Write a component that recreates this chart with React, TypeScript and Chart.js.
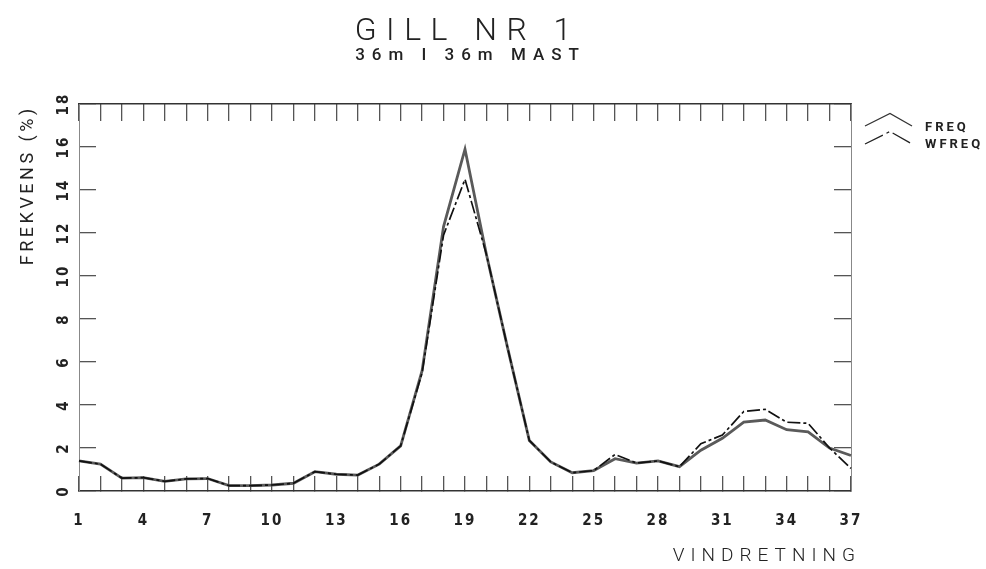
import React, { useEffect, useRef } from 'react';
import { Chart, registerables } from 'chart.js';

Chart.register(...registerables);

// ---- data ----
const directions = ['1','2','3','4','5','6','7','8','9','10','11','12','13','14','15','16','17','18','19','20','21','22','23','24','25','26','27','28','29','30','31','32','33','34','35','36','37'];
const freq = [1.4, 1.25, 0.6, 0.62, 0.45, 0.56, 0.58, 0.25, 0.25, 0.28, 0.36, 0.9, 0.78, 0.74, 1.25, 2.1, 5.6, 12.3, 15.9, 11.0, 6.6, 2.35, 1.35, 0.85, 0.95, 1.5, 1.3, 1.4, 1.13, 1.9, 2.45, 3.2, 3.3, 2.85, 2.75, 2.0, 1.65];
const wfreq = [1.4, 1.25, 0.6, 0.62, 0.45, 0.56, 0.58, 0.25, 0.25, 0.28, 0.36, 0.9, 0.78, 0.74, 1.25, 2.1, 5.5, 11.9, 14.5, 11.0, 6.6, 2.35, 1.35, 0.85, 0.95, 1.7, 1.3, 1.4, 1.13, 2.2, 2.6, 3.7, 3.8, 3.2, 3.15, 2.0, 1.05];
const seriesNames = ['FREQ', 'WFREQ'];
const yMin = 0;
const yMax = 18;
const yStep = 2;
const labelEvery = 3;
const titleText = 'GILL NR 1';
const subtitleText = '36m I 36m MAST';
const yTitleText = 'FREKVENS (%)';
const xTitleText = 'VINDRETNING';

// ---- styles ----
const INK = '#222';
const FREQ_COLOR = '#5a5a5a';
const WFREQ_COLOR = '#111';
const WFREQ_DASH = [13, 3, 3, 3];
const TICK_FONT = { family: '"Liberation Sans Narrow", "DejaVu Sans Condensed", Roboto, sans-serif', size: 15, weight: 'bold' as const };

function drawSpaced(ctx: CanvasRenderingContext2D, text: string, x: number, y: number, font: string, spacing: number, align: 'left' | 'center' | 'right') {
  ctx.font = font;
  (ctx as any).letterSpacing = spacing + 'px';
  const w = ctx.measureText(text).width - spacing;
  let sx = x;
  if (align === 'center') sx = x - w / 2;
  else if (align === 'right') sx = x - w;
  ctx.textAlign = 'left';
  ctx.fillText(text, sx, y);
}

const plotterText = {
  id: 'plotterText',
  beforeDraw(chart: any) {
    (chart.ctx as any).letterSpacing = '2px';
  },
  afterDraw(chart: any) {
    const ctx: CanvasRenderingContext2D = chart.ctx;
    const a = chart.chartArea;
    ctx.save();
    ctx.fillStyle = INK;
    ctx.textBaseline = 'alphabetic';
    const cx = (a.left + a.right) / 2;
    drawSpaced(ctx, titleText, cx - 2, 40, '300 32px Roboto, "DejaVu Sans", sans-serif', 9.5, 'center');
    drawSpaced(ctx, subtitleText, cx + 2, 60, '500 17px Roboto, "DejaVu Sans", sans-serif', 7, 'center');

    // y-axis title (rotated)
    ctx.save();
    ctx.translate(33, 187);
    ctx.rotate(-Math.PI / 2);
    drawSpaced(ctx, yTitleText, 0, 0, '400 18px Roboto, "DejaVu Sans", sans-serif', 3.5, 'center');
    ctx.restore();

    // x-axis title
    drawSpaced(ctx, xTitleText, a.right + 4, 561, '300 19px Roboto, "DejaVu Sans", sans-serif', 6, 'right');

    // legend
    const lx = a.right + 14;
    const items = [
      { name: seriesNames[0], y: 126, color: '#333', dash: [] as number[], w: 1.3, ty: 131 },
      { name: seriesNames[1], y: 144, color: '#222', dash: [20, 4, 3, 4], w: 1.3, ty: 148 },
    ];
    for (const it of items) {
      ctx.save();
      ctx.strokeStyle = it.color;
      ctx.lineWidth = it.w;
      ctx.setLineDash(it.dash);
      ctx.beginPath();
      ctx.moveTo(lx, it.y);
      ctx.lineTo(lx + 25, it.y - 12.5);
      ctx.lineTo(lx + 47, it.y);
      ctx.stroke();
      ctx.restore();
      ctx.fillStyle = INK;
      drawSpaced(ctx, it.name, lx + 60, it.ty, 'bold 13px "Liberation Sans Narrow", Roboto, sans-serif', 3, 'left');
    }
    ctx.restore();
  },
};

export default function App() {
  const ref = useRef<HTMLCanvasElement | null>(null);
  useEffect(() => {
    if (!ref.current) return;
    const chart = new Chart(ref.current, {
      type: 'line',
      data: {
        labels: directions,
        datasets: [
          {
            label: seriesNames[0],
            data: freq,
            borderColor: FREQ_COLOR,
            borderWidth: 2.8,
            pointRadius: 0,
            tension: 0,
            fill: false,
            order: 2,
          },
          {
            label: seriesNames[1],
            data: wfreq,
            borderColor: WFREQ_COLOR,
            borderWidth: 1.7,
            borderDash: WFREQ_DASH,
            pointRadius: 0,
            tension: 0,
            fill: false,
            order: 1,
          },
        ],
      },
      options: {
        animation: false,
        responsive: true,
        maintainAspectRatio: false,
        devicePixelRatio: 1,
        layout: { padding: { left: 0, top: 104, right: 135, bottom: 38 } },
        plugins: { legend: { display: false }, tooltip: { enabled: false }, title: { display: false } },
        scales: {
          x: {
            type: 'category',
            position: 'bottom',
            offset: false,
            grid: { drawOnChartArea: false, drawTicks: true, tickLength: -15, color: '#555', lineWidth: 1.3 },
            border: { display: true, color: '#333', width: 1.6 },
            ticks: {
              autoSkip: false,
              maxRotation: 0,
              minRotation: 0,
              padding: 36,
              color: INK,
              font: TICK_FONT,
              callback: (_v: any, i: number) => (i % labelEvery === 0 ? directions[i] : ''),
            },
            afterFit: (s: any) => { s.height = 40; },
          },
          x2: {
            type: 'category',
            position: 'top',
            offset: false,
            grid: { drawOnChartArea: false, drawTicks: true, tickLength: -17, color: '#555', lineWidth: 1.3 },
            border: { display: true, color: '#333', width: 1.6 },
            ticks: { display: false, autoSkip: false },
            afterFit: (s: any) => { s.height = 0; },
          },
          y: {
            type: 'linear',
            position: 'left',
            min: yMin,
            max: yMax,
            grid: { drawOnChartArea: false, drawTicks: true, tickLength: -17, color: '#555', lineWidth: 1.3 },
            border: { display: true, color: '#888', width: 1, dash: [4, 2] },
            ticks: {
              stepSize: yStep,
              minRotation: 90,
              maxRotation: 90,
              crossAlign: 'center',
              padding: 23,
              color: INK,
              font: TICK_FONT,
            },
            afterFit: (s: any) => { s.width = 79; },
          },
          y2: {
            type: 'linear',
            position: 'right',
            min: yMin,
            max: yMax,
            grid: { drawOnChartArea: false, drawTicks: true, tickLength: -17, color: '#555', lineWidth: 1.3 },
            border: { display: true, color: '#888', width: 1, dash: [4, 2] },
            ticks: { display: false, stepSize: yStep },
            afterFit: (s: any) => { s.width = 0; },
          },
        },
      } as any,
      plugins: [plotterText],
    });
    return () => chart.destroy();
  }, []);
  return (
    <div style={{ position: 'fixed', left: 0, top: 0, width: 986, height: 569, background: '#fff' }}>
      <canvas ref={ref} />
    </div>
  );
}
